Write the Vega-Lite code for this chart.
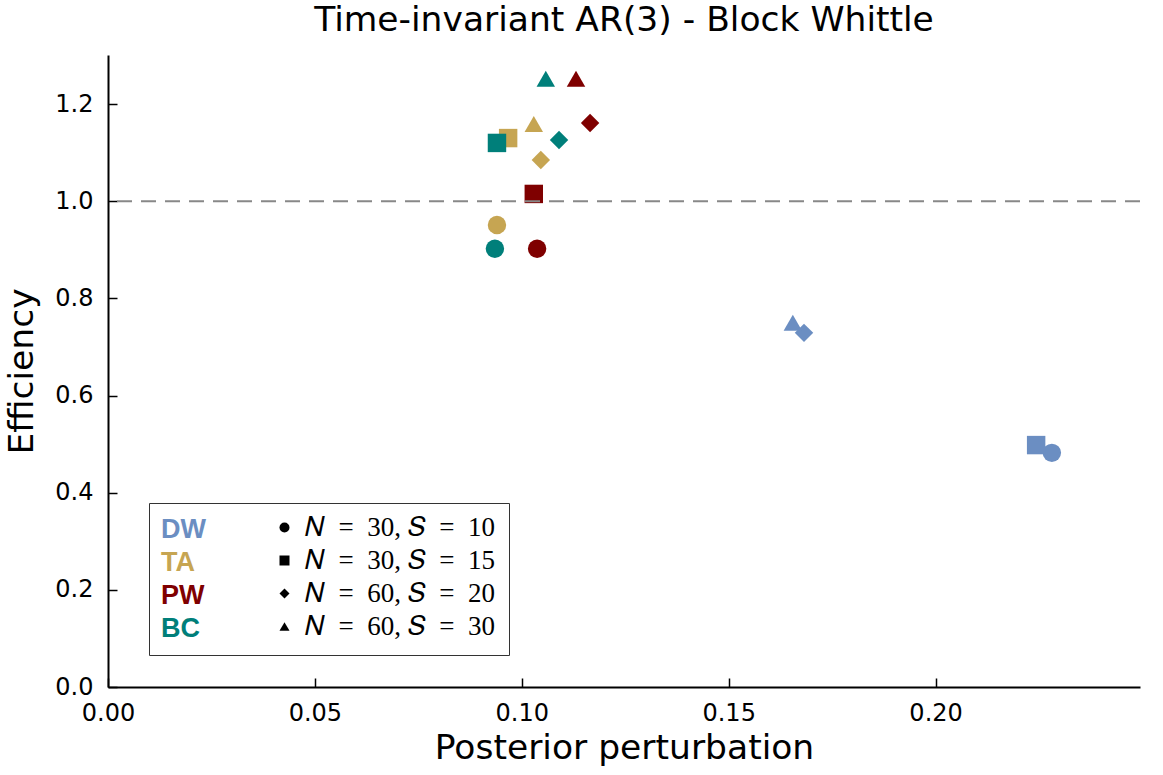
{
  "$schema": "https://vega.github.io/schema/vega-lite/v6.json",
  "width": 1032,
  "height": 632,
  "autosize": {"type": "none"},
  "padding": {"left": 108, "top": 55, "right": 23, "bottom": 88},
  "background": "white",
  "config": {"view": {"stroke": null}},
  "title": {"text": "Time-invariant AR(3) - Block Whittle", "font": "DejaVu Sans", "fontSize": 34.5, "fontWeight": "normal", "color": "black", "offset": 17},
  "layer": [
    {
      "data": {"values": [
        {"method": "DW", "setting": "N = 30, S = 10", "px": 0.2281, "eff": 0.482},
        {"method": "DW", "setting": "N = 30, S = 15", "px": 0.2243, "eff": 0.498},
        {"method": "DW", "setting": "N = 60, S = 20", "px": 0.1682, "eff": 0.729},
        {"method": "DW", "setting": "N = 60, S = 30", "px": 0.1655, "eff": 0.750},
        {"method": "TA", "setting": "N = 30, S = 10", "px": 0.0940, "eff": 0.951},
        {"method": "TA", "setting": "N = 30, S = 15", "px": 0.0967, "eff": 1.130},
        {"method": "TA", "setting": "N = 60, S = 20", "px": 0.1046, "eff": 1.085},
        {"method": "TA", "setting": "N = 60, S = 30", "px": 0.1029, "eff": 1.159},
        {"method": "PW", "setting": "N = 30, S = 10", "px": 0.1037, "eff": 0.902},
        {"method": "PW", "setting": "N = 30, S = 15", "px": 0.1029, "eff": 1.015},
        {"method": "PW", "setting": "N = 60, S = 20", "px": 0.1165, "eff": 1.161},
        {"method": "PW", "setting": "N = 60, S = 30", "px": 0.1131, "eff": 1.252},
        {"method": "BC", "setting": "N = 30, S = 10", "px": 0.0935, "eff": 0.902},
        {"method": "BC", "setting": "N = 30, S = 15", "px": 0.0940, "eff": 1.120},
        {"method": "BC", "setting": "N = 60, S = 20", "px": 0.1090, "eff": 1.126},
        {"method": "BC", "setting": "N = 60, S = 30", "px": 0.1058, "eff": 1.252}
      ]},
      "mark": {"type": "point", "filled": true, "opacity": 1, "size": 340, "strokeWidth": 0},
      "encoding": {
        "x": {"field": "px", "type": "quantitative", "scale": {"domain": [0, 0.2494], "nice": false, "zero": false},
          "axis": {"title": "Posterior perturbation", "values": [0, 0.05, 0.1, 0.15, 0.2], "format": ".2f", "grid": false,
            "domainColor": "black", "domainWidth": 2, "tickColor": "black", "tickWidth": 1.5, "tickSize": -9,
            "labelFont": "DejaVu Sans", "labelFontSize": 24, "labelColor": "black", "labelPadding": 23, "labelFlush": false,
            "titleFont": "DejaVu Sans", "titleFontSize": 34.5, "titleFontWeight": "normal", "titleColor": "black", "titlePadding": 6}},
        "y": {"field": "eff", "type": "quantitative", "scale": {"domain": [0, 1.301], "nice": false},
          "axis": {"title": "Efficiency", "values": [0, 0.2, 0.4, 0.6, 0.8, 1.0, 1.2], "format": ".1f", "grid": false,
            "domainColor": "black", "domainWidth": 2, "tickColor": "black", "tickWidth": 1.5, "tickSize": -9,
            "labelFont": "DejaVu Sans", "labelFontSize": 24, "labelColor": "black", "labelPadding": 24, "labelFlush": false,
            "titleFont": "DejaVu Sans", "titleFontSize": 34.5, "titleFontWeight": "normal", "titleColor": "black", "titlePadding": 15}},
        "color": {"field": "method", "type": "nominal",
          "scale": {"domain": ["DW", "TA", "PW", "BC"], "range": ["#6b8ec2", "#c6a552", "#7f0000", "#007f7a"]},
          "legend": {"title": null, "orient": "none", "legendX": 41, "legendY": 448, "padding": 13,
            "strokeColor": "#333333", "symbolSize": 0.01, "symbolOpacity": 0, "symbolStrokeWidth": 0.01,
            "symbolOffset": 320, "labelOffset": -348,
            "labelFont": "Liberation Sans", "labelFontWeight": "bold", "labelFontSize": 27, "labelLimit": 800, "rowPadding": 5,
            "encode": {"labels": {"update": {
              "fill": {"signal": "scale('color', datum.value)"}}}}}},
        "shape": {"field": "setting", "type": "nominal",
          "scale": {"domain": ["N = 30, S = 10", "N = 30, S = 15", "N = 60, S = 20", "N = 60, S = 30"], "range": ["circle", "square", "diamond", "triangle-up"]},
          "legend": {"title": null, "orient": "none", "legendX": 163, "legendY": 459, "padding": 0,
            "symbolSize": 100, "symbolFillColor": "black", "symbolStrokeColor": "black", "symbolStrokeWidth": 0, "labelOffset": 7,
            "labelFont": "Liberation Serif", "labelFontSize": 27, "labelColor": "black", "labelLimit": 800, "rowPadding": 5,
            "labelExpr": "replace(replace(replace(replace(datum.label, 'N', '\ud835\udc41'), 'S', '\ud835\udc46'), ' = ', '\u2002=\u2002'), ' = ', '\u2002=\u2002')"}}
      }
    },
    {
      "data": {"values": [{"ref": 1.0}]},
      "mark": {"type": "rule", "color": "#888888", "strokeWidth": 2, "strokeDash": [15, 9]},
      "encoding": {"y": {"field": "ref", "type": "quantitative"}}
    }
  ]
}
